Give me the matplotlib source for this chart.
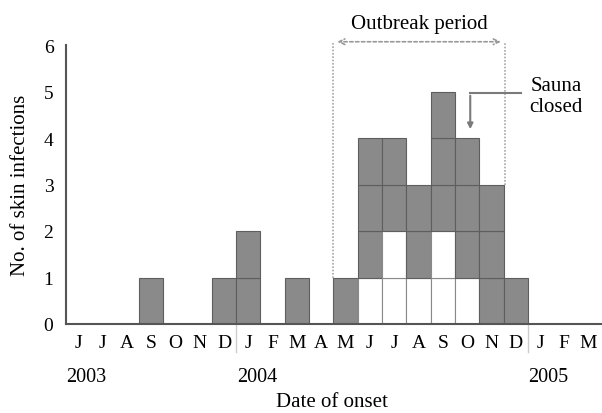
import matplotlib.pyplot as plt
import numpy as np

plt.rcParams['font.family'] = ['Liberation Serif', 'DejaVu Serif']

months = ["J", "J", "A", "S", "O", "N", "D",
          "J", "F", "M", "A", "M", "J", "J", "A", "S", "O", "N", "D",
          "J", "F", "M"]
# each month: boxes from bottom to top, G = grey case, W = white case
stacks = ["", "", "", "G", "", "", "G",
          "GG", "", "G", "", "G", "WGGG", "WWGG", "WGG", "WWGGG", "WGGG", "GGG", "G",
          "", "", ""]
years = ["2003", "2004", "2005"]
year_pos = [-0.5, 6.5, 18.5]

grey = "#8a8a8a"
edge = "#5e5e5e"

fig = plt.figure(figsize=(6.02, 4.14), dpi=100)
ax = fig.add_axes([66/602, (414-325)/414, (602-66)/602, (325-46)/414])

x = np.arange(len(months))
for i, s in enumerate(stacks):
    for lvl, c in enumerate(s):
        if c == "G":
            ax.bar(i, 1, bottom=lvl, width=1, color=grey, edgecolor=edge, linewidth=0.8)
        else:
            ax.bar(i, 1, bottom=lvl, width=1, color="white", edgecolor="#8a8a8a", linewidth=0.8)

ax.set_xlim(-0.5, 21.55)
ax.set_ylim(0, 6)
ax.set_yticks(range(7))
ax.set_xticks(x)
ax.set_xticklabels(months)
ax.tick_params(axis="both", length=0, colors="black")
ax.tick_params(axis="x", pad=7, labelsize=14)
ax.tick_params(axis="y", pad=9, labelsize=14)
for sp in ["top", "right"]:
    ax.spines[sp].set_visible(False)
for sp in ["left", "bottom"]:
    ax.spines[sp].set_color("#555555")
    ax.spines[sp].set_linewidth(1.5)

# year separators
for xs in [6.5, 18.5]:
    ax.plot([xs, xs], [0, -0.6], color="#cccccc", lw=1, clip_on=False)
for yl, yp in zip(years, year_pos):
    ax.text(yp + 0.02, -1.12, yl, ha="left", va="center", fontsize=14.5)

ax.set_xlabel("Date of onset", fontsize=15)
ax.xaxis.set_label_coords(0.496, -0.278)
ax.xaxis.label.set_va("center")
ax.set_ylabel("No. of skin infections", fontsize=15)
ax.yaxis.set_label_coords(-0.0858, 0.5)
ax.yaxis.label.set_va("center")

# outbreak period
dot = dict(color="#a8a8a8", lw=1.2, ls=(0, (1, 1)))
ax.plot([10.5, 10.5], [1, 6.07], clip_on=False, **dot)
ax.plot([17.55, 17.55], [3, 6.07], clip_on=False, **dot)
ax.annotate("", xy=(10.55, 6.07), xytext=(17.5, 6.07),
            arrowprops=dict(arrowstyle="<->", color="#999999", lw=1.2, ls=(0, (2, 1.5))),
            annotation_clip=False)
ax.text(14.05, 6.46, "Outbreak period", ha="center", va="center", fontsize=15)

# sauna closed
ax.plot([18.23, 16.13], [4.96, 4.96], color="#7a7a7a", lw=1.5)
ax.annotate("", xy=(16.13, 4.13), xytext=(16.13, 4.97),
            arrowprops=dict(arrowstyle="-|>", color="#7a7a7a", lw=1.5, mutation_scale=8))
ax.text(19.67, 4.9, "Sauna\nclosed", ha="center", va="center", fontsize=15, linespacing=1.15)

fig.savefig("out.png", dpi=100)
